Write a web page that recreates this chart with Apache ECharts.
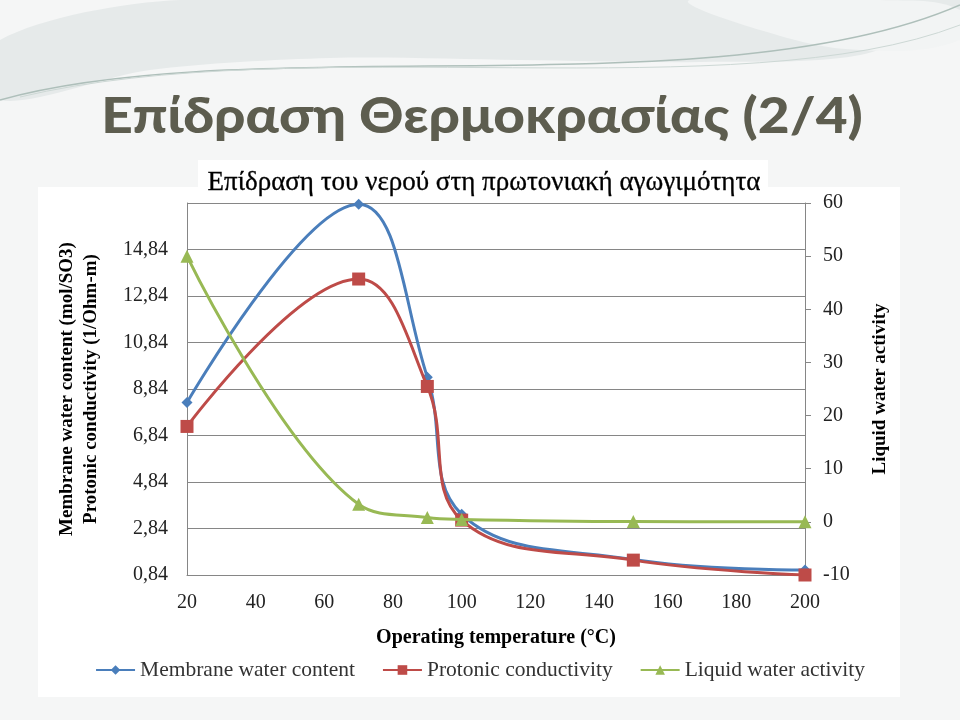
<!DOCTYPE html>
<html><head><meta charset="utf-8">
<script src="https://cdn.jsdelivr.net/npm/echarts@6/dist/echarts.min.js"></script>
<style>html,body{margin:0;padding:0;background:#f5f6f6}#c{width:960px;height:720px}</style>
</head><body><div id="c"></div><script>
// ---- data ----
const temperatures = [20, 70, 90, 100, 150, 200];
const membraneWater = [8.26, 16.79, 9.35, 3.45, 1.51, 1.05];
const protonicCond = [7.23, 13.57, 8.95, 3.20, 1.48, 0.84];
const liquidActivity = [50.0, 3.3, 0.8, 0.45, 0.05, 0.0];
const seriesNames = ['Membrane water content', 'Protonic conductivity', 'Liquid water activity'];
const leftAxisRange = [0.84, 16.84, 2];
const rightAxisRange = [-10, 60, 10];
const xAxisRange = [20, 200, 20];
const titleText = 'Επίδραση Θερμοκρασίας (2/4)';
const subtitleText = 'Επίδραση του νερού στη πρωτονιακή αγωγιμότητα';

const pairs = arr => temperatures.map((t, i) => [t, arr[i]]);
const serif = 'Liberation Serif';
const chart = echarts.init(document.getElementById('c'), null, {renderer: 'canvas'});
chart.setOption({
  backgroundColor: '#f5f6f6',
  animation: false,
  graphic: [
    {type: 'polygon', z: -20, shape: {points: [[180,0],[960,0],[960,12],[860,55],[700,62],[520,60],[330,58],[150,70],[0,100],[0,40]], smooth: 0.3}, style: {fill: '#e6eaea'}},
    {type: 'polygon', z: -19, shape: {points: [[690,0],[760,30],[860,50],[960,40],[960,10],[880,0]], smooth: 0.4}, style: {fill: '#f2f4f4'}},
    {type: 'bezierCurve', z: -18, shape: {x1: 0, y1: 100, x2: 960, y2: 5, cpx1: 250, cpy1: 30, cpx2: 720, cpy2: 110}, style: {fill: null, stroke: '#aebfba', lineWidth: 1.5}},
    {type: 'bezierCurve', z: -18, shape: {x1: 20, y1: 97, x2: 960, y2: 25, cpx1: 300, cpy1: 30, cpx2: 740, cpy2: 110}, style: {fill: null, stroke: '#cdd8d5', lineWidth: 1}},
    {type: 'rect', z: -15, shape: {x: 38, y: 187, width: 862, height: 510}, style: {fill: '#ffffff'}},
    {type: 'rect', z: -15, shape: {x: 198, y: 160, width: 570, height: 30}, style: {fill: '#ffffff'}},
    {type: 'text', x: 482, y: 117, scaleX: 1.1, style: {text: titleText, fontFamily: 'Lato', fontWeight: 900, fontSize: 50, fill: '#5d5d4f', align: 'center', verticalAlign: 'middle'}},
    {type: 'text', x: 484, y: 183, style: {text: subtitleText, fontFamily: serif, fontSize: 27, fill: '#000000', align: 'center', verticalAlign: 'middle', stroke: '#000000', lineWidth: 0.3}}
  ],
  grid: {left: 187, right: 155, top: 203, bottom: 145},
  legend: {
    bottom: 34, left: 'center', itemWidth: 39, itemHeight: 12, itemGap: 27,
    textStyle: {fontFamily: serif, fontSize: 21.5, color: '#333333'},
    data: seriesNames
  },
  xAxis: {
    type: 'value', min: xAxisRange[0], max: xAxisRange[1], interval: xAxisRange[2],
    name: 'Operating temperature (°C)', nameLocation: 'middle', nameGap: 53,
    nameTextStyle: {fontFamily: serif, fontSize: 20, fontWeight: 'bold', color: '#000'},
    axisLine: {show: true, onZero: false, lineStyle: {color: '#868686'}},
    axisTick: {show: false},
    splitLine: {show: false},
    axisLabel: {fontFamily: serif, fontSize: 20, color: '#222', margin: 18}
  },
  yAxis: [
    {
      type: 'value', position: 'left', min: leftAxisRange[0], max: leftAxisRange[1], interval: leftAxisRange[2],
      name: 'Membrane water content (mol/SO3)\nProtonic conductivity (1/Ohm-m)',
      nameLocation: 'middle', nameRotate: 90, nameGap: 84,
      nameTextStyle: {fontFamily: serif, fontSize: 19, fontWeight: 'bold', color: '#000', lineHeight: 24},
      axisLine: {show: true, lineStyle: {color: '#868686'}},
      axisTick: {show: false},
      splitLine: {show: true, lineStyle: {color: '#868686', width: 1}},
      axisLabel: {fontFamily: serif, fontSize: 20, color: '#222', margin: 19, showMaxLabel: false,
        formatter: v => v.toFixed(2).replace('.', ',')}
    },
    {
      type: 'value', position: 'right', min: rightAxisRange[0], max: rightAxisRange[1], interval: rightAxisRange[2],
      name: 'Liquid water activity', nameLocation: 'middle', nameRotate: 90, nameGap: 66,
      nameTextStyle: {fontFamily: serif, fontSize: 19, fontWeight: 'bold', color: '#000'},
      axisLine: {show: true, lineStyle: {color: '#868686'}},
      axisTick: {show: true, inside: false, length: 6, lineStyle: {color: '#868686'}},
      splitLine: {show: false},
      axisLabel: {fontFamily: serif, fontSize: 20, color: '#222', margin: 18}
    }
  ],
  series: [
    {name: seriesNames[0], type: 'line', yAxisIndex: 0, data: pairs(membraneWater), smooth: 0.4,
      symbol: 'diamond', symbolSize: 11, lineStyle: {width: 3, color: '#4a7ebb'}, itemStyle: {color: '#4a7ebb'}, z: 3},
    {name: seriesNames[1], type: 'line', yAxisIndex: 0, data: pairs(protonicCond), smooth: 0.4,
      symbol: 'rect', symbolSize: 13, lineStyle: {width: 3, color: '#be4b48'}, itemStyle: {color: '#be4b48'}, z: 4},
    {name: seriesNames[2], type: 'line', yAxisIndex: 1, data: pairs(liquidActivity), smooth: 0.4,
      symbol: 'triangle', symbolSize: 13, lineStyle: {width: 3, color: '#98b954'}, itemStyle: {color: '#98b954'}, z: 5}
  ]
});
</script></body></html>
